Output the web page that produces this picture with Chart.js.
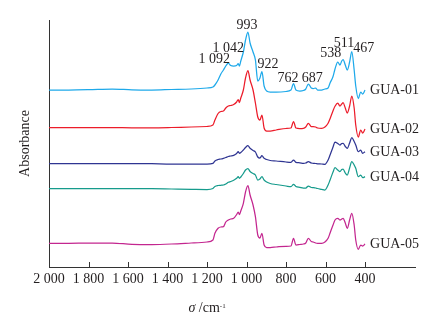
<!DOCTYPE html>
<html>
<head>
<meta charset="utf-8">
<script src="https://cdn.jsdelivr.net/npm/chart.js@4.4.1/dist/chart.umd.min.js"></script>
<style>
  html, body { margin: 0; padding: 0; background: #fff; }
  #wrap { width: 446px; height: 322px; }
</style>
</head>
<body>
<div id="wrap"><canvas id="ftir" width="446" height="322"></canvas></div>
<script>
// wavenumber grid (cm-1), shared by all samples
const wavenumbers = [
  2000, 1900, 1800, 1680, 1580, 1480, 1380, 1280, 1200, 1170,
  1160, 1144, 1130, 1117, 1105, 1092, 1080, 1065, 1050, 1042,
  1036, 1029, 1016, 1005, 993, 982, 967, 955, 943, 932,
  922, 911, 898, 880, 850, 800, 775, 762, 750, 730,
  712, 700, 687, 672, 662, 650, 640, 620, 603, 587,
  577, 562, 552, 538, 527, 518, 511, 500, 490, 478,
  467, 455, 447, 434, 422, 412, 400
];

const sampleNames = ['GUA-01', 'GUA-02', 'GUA-03', 'GUA-04', 'GUA-05'];
// vertical stacking offset of each spectrum
const sampleOffsets = [1.77, 1.393, 1.035, 0.785, 0.237];

// absorbance relative to each spectrum's baseline
const gua01 = [
  0, 0, 0.003, 0.01, 0.002, 0, 0.005, 0.01, 0.02, 0.03,
  0.05, 0.10, 0.16, 0.20, 0.24, 0.27, 0.245, 0.24, 0.245, 0.265,
  0.24, 0.29, 0.38, 0.50, 0.58, 0.47, 0.38, 0.30, 0.09, 0.12,
  0.185, 0.04, -0.01, -0.02, -0.02, -0.015, 0, 0.065, 0, -0.01,
  -0.005, 0.01, 0.06, 0.02, 0.015, 0.02, 0, 0, 0.01, 0.02,
  0.07, 0.135, 0.21, 0.28, 0.25, 0.29, 0.305, 0.25, 0.20, 0.28,
  0.385, 0.20, 0.04, -0.085, -0.02, -0.04, 0
];
const gua02 = [
  0, 0, 0.002, 0.002, -0.001, -0.001, 0.002, 0.007, 0.012, 0.027,
  0.077, 0.142, 0.162, 0.167, 0.197, 0.217, 0.222, 0.232, 0.257, 0.282,
  0.252, 0.297, 0.377, 0.497, 0.572, 0.477, 0.377, 0.247, 0.107, 0.077,
  0.127, -0.003, -0.033, -0.033, -0.023, -0.008, -0.003, 0.062, -0.003, -0.008,
  -0.006, 0.007, 0.044, 0.012, 0.012, 0.007, -0.003, -0.006, 0.007, 0.044,
  0.09, 0.17, 0.215, 0.245, 0.217, 0.237, 0.25, 0.197, 0.147, 0.217,
  0.317, 0.197, 0.027, -0.093, -0.023, -0.053, -0.013
];
const gua03 = [
  0, 0, 0, 0, 0, -0.002, -0.005, -0.005, -0.005, 0.002,
  0.025, 0.04, 0.045, 0.052, 0.06, 0.07, 0.075, 0.082, 0.10, 0.118,
  0.102, 0.11, 0.135, 0.16, 0.178, 0.152, 0.13, 0.115, 0.065, 0.055,
  0.078, 0.052, 0.04, 0.03, 0.025, 0.015, 0.012, 0.035, 0.012, 0.007,
  0.002, 0.005, 0.018, 0.005, 0.002, 0, -0.003, -0.005, -0.008, 0.035,
  0.085, 0.165, 0.215, 0.20, 0.185, 0.20, 0.202, 0.17, 0.152, 0.205,
  0.258, 0.22, 0.185, 0.118, 0.135, 0.102, 0.118
];
const gua04 = [
  0, 0, 0, 0, -0.001, -0.002, -0.005, -0.008, -0.01, 0,
  0.02, 0.03, 0.032, 0.035, 0.045, 0.062, 0.07, 0.082, 0.102, 0.118,
  0.102, 0.115, 0.15, 0.185, 0.20, 0.17, 0.15, 0.135, 0.085, 0.095,
  0.118, 0.085, 0.065, 0.05, 0.04, 0.025, 0.018, 0.042, 0.02, 0.012,
  0.005, 0.005, 0.025, 0.01, 0.008, 0.005, 0, -0.008, -0.015, 0.035,
  0.085, 0.165, 0.208, 0.185, 0.168, 0.19, 0.195, 0.155, 0.135, 0.205,
  0.268, 0.235, 0.202, 0.118, 0.135, 0.108, 0.118
];
const gua05 = [
  0, 0, 0.003, 0.003, -0.01, -0.012, -0.007, 0.003, 0.013, 0.033,
  0.10, 0.15, 0.163, 0.166, 0.213, 0.233, 0.243, 0.25, 0.288, 0.313,
  0.288, 0.323, 0.40, 0.513, 0.578, 0.483, 0.383, 0.266, 0.083, 0.053,
  0.10, -0.017, -0.042, -0.042, -0.037, -0.03, -0.027, 0.05, -0.017, -0.012,
  -0.007, 0.003, 0.05, 0.018, 0.013, 0.003, 0, 0, 0.013, 0.05,
  0.103, 0.183, 0.233, 0.25, 0.233, 0.243, 0.25, 0.203, 0.15, 0.233,
  0.30, 0.183, 0.033, -0.06, -0.017, -0.027, -0.007
];

// band positions marked on the top spectrum
const peakWavenumbers = [1092, 1042, 993, 922, 762, 687, 538, 511, 467];

const xTicks = [2000, 1800, 1600, 1400, 1200, 1000, 800, 600, 400];

const lineColors = ['#1ea9ea', '#ec1c2a', '#2f3592', '#169b8c', '#c3268f'];
const peakLabelShift = {
  1092: [-14, -4], 1042: [-10, -15], 993: [-1, -7], 922: [6, -7.5],
  762: [-5.5, -5.5], 687: [4, -6], 538: [-7, -9], 511: [1, -16.5], 467: [12, -3.5]
};
const serif = '"Liberation Serif", "Times New Roman", serif';
const textColor = '#231f20';

function fmtWn(v) {
  if (v >= 1000) return Math.floor(v / 1000) + ' ' + String(v % 1000).padStart(3, '0');
  return String(v);
}

const spectra = [gua01, gua02, gua03, gua04, gua05];
const datasets = spectra.map((rel, i) => ({
  label: sampleNames[i],
  data: wavenumbers.map((w, k) => ({ x: w, y: sampleOffsets[i] + rel[k] })),
  borderColor: lineColors[i],
  borderWidth: 1.25,
  pointRadius: 0,
  cubicInterpolationMode: 'monotone',
  fill: false
}));

const annotatePlugin = {
  id: 'annotate',
  afterDatasetsDraw(chart) {
    const { ctx, chartArea } = chart;
    const xs = chart.scales.x, ys = chart.scales.y;
    ctx.save();

    // tick marks pointing into the plot
    ctx.strokeStyle = '#333';
    ctx.lineWidth = 1;
    xTicks.forEach(v => {
      const px = Math.round(xs.getPixelForValue(v)) + 0.5;
      ctx.beginPath();
      ctx.moveTo(px, chartArea.bottom);
      ctx.lineTo(px, chartArea.bottom - 5);
      ctx.stroke();
    });

    ctx.fillStyle = textColor;
    ctx.font = '14px ' + serif;
    ctx.textAlign = 'center';
    ctx.textBaseline = 'middle';

    // band labels on GUA-01
    peakWavenumbers.forEach(w => {
      const k = wavenumbers.indexOf(w);
      const px = xs.getPixelForValue(w);
      const py = ys.getPixelForValue(sampleOffsets[0] + gua01[k]);
      const s = peakLabelShift[w];
      ctx.fillText(fmtWn(w), px + s[0], py + s[1]);
    });

    // sample names at the end of each trace
    ctx.textAlign = 'left';
    datasets.forEach((ds, i) => {
      const last = ds.data[ds.data.length - 1];
      const px = xs.getPixelForValue(last.x);
      const py = ys.getPixelForValue(last.y);
      ctx.fillText(sampleNames[i], px + 5, py + 0.5);
    });

    // x axis title: σ /cm-1
    const cx = xs.getPixelForValue(1200);
    const cy = chartArea.bottom + 45;
    ctx.textBaseline = 'alphabetic';
    const parts = [
      { t: 'σ', f: 'italic 14px ' + serif, dy: 0 },
      { t: ' /cm', f: '14px ' + serif, dy: 0 },
      { t: '-1', f: '7px ' + serif, dy: -4 }
    ];
    let total = 0;
    parts.forEach(p => { ctx.font = p.f; p.w = ctx.measureText(p.t).width; total += p.w; });
    let x = cx - total / 2;
    parts.forEach(p => {
      ctx.font = p.f;
      ctx.fillText(p.t, x, cy + p.dy);
      x += p.w;
    });
    ctx.restore();
  }
};

new Chart(document.getElementById('ftir'), {
  type: 'line',
  data: { datasets },
  options: {
    responsive: false,
    animation: false,
    events: [],
    layout: { padding: { top: 20, right: 31, left: 0, bottom: 0 } },
    plugins: { legend: { display: false }, tooltip: { enabled: false } },
    scales: {
      x: {
        type: 'linear',
        reverse: true,
        min: 147,
        max: 2000,
        afterBuildTicks: scale => { scale.ticks = xTicks.map(v => ({ value: v })); },
        afterFit: scale => { scale.height = 55; },
        grid: { display: false, drawTicks: false },
        border: { display: true, color: '#333', width: 1 },
        ticks: {
          padding: 4,
          maxRotation: 0,
          autoSkip: false,
          color: textColor,
          font: { family: serif, size: 14 },
          callback: v => fmtWn(v)
        }
      },
      y: {
        min: 0,
        max: 2.47,
        afterFit: scale => { scale.width = 49; },
        grid: { display: false, drawTicks: false },
        border: { display: true, color: '#333', width: 1 },
        ticks: { display: false },
        title: {
          display: true,
          text: 'Absorbance',
          color: textColor,
          font: { family: serif, size: 14 },
          padding: { top: 17, bottom: 0 }
        }
      }
    }
  },
  plugins: [annotatePlugin]
});
</script>
</body>
</html>
